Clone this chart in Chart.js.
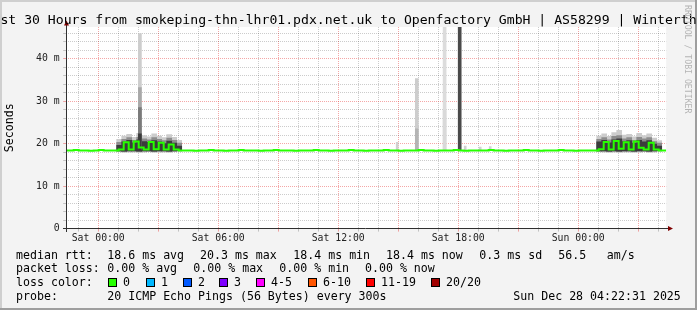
<!DOCTYPE html>
<html>
<head>
<meta charset="utf-8">
<script src="https://cdn.jsdelivr.net/npm/chart.js@4/dist/chart.umd.min.js"></script>
<style>
  html, body { margin: 0; padding: 0; background: #f3f3f3; }
  #c { display: block; }
</style>
</head>
<body>
<canvas id="c" width="697" height="310"></canvas>
<script>
// time axis is in hours relative to Sat 00:00
const titleText = 'Last 30 Hours from smokeping-thn-lhr01.pdx.net.uk to Openfactory GmbH | AS58299 | Winterthur';
const xTickHours = [0, 6, 12, 18, 24];
const xTickLabels = ['Sat 00:00', 'Sat 06:00', 'Sat 12:00', 'Sat 18:00', 'Sun 00:00'];
const yTickValues = [0, 10, 20, 30, 40];
const yTickLabels = ['0', '10 m', '20 m', '30 m', '40 m'];

// median rtt (ms), one value every 15 minutes starting Fri 22:24
const sampleStart = -1.6;
const sampleStep = 0.25;
const medianMs = [
  18.4, 18.4, 18.5, 18.4, 18.4, 18.3, 18.4, 18.5, 18.4, 18.4,
  18.4, 18.6, 20.3, 18.6, 20.5, 19.1, 18.6, 20.4, 18.7, 20.2, 18.6, 19.8, 18.6, 18.4,
  18.4, 18.4, 18.3, 18.4, 18.4, 18.5, 18.4, 18.4, 18.3, 18.4,
  18.4, 18.5, 18.4, 18.4, 18.4, 18.3, 18.4, 18.4, 18.5, 18.4,
  18.4, 18.4, 18.3, 18.4, 18.4, 18.4, 18.5, 18.4, 18.4, 18.3,
  18.4, 18.4, 18.4, 18.5, 18.4, 18.4, 18.3, 18.4, 18.4, 18.4,
  18.5, 18.4, 18.4, 18.3, 18.4, 18.4, 18.4, 18.5, 18.4, 18.4,
  18.3, 18.4, 18.4, 18.4, 18.5, 18.4, 18.3, 18.4, 18.4, 18.4,
  18.4, 18.5, 18.4, 18.4, 18.3, 18.4, 18.4, 18.4, 18.5, 18.4,
  18.4, 18.3, 18.4, 18.4, 18.4, 18.5, 18.4, 18.4, 18.3, 18.4,
  18.4, 18.4,
  18.4, 18.7, 20.4, 18.6, 20.6, 18.8, 20.3, 18.6, 20.5, 19.0, 18.6, 20.2, 18.6, 18.4,
  18.4
];

// smoke (spread of the 20 pings) in the two busy windows
const smokeHours = [1.05, 1.3, 1.55, 1.8, 2.05, 2.3, 2.55, 2.8, 3.05, 3.3, 3.55, 3.8, 4.05,
  25.05, 25.3, 25.55, 25.8, 26.05, 26.3, 26.55, 26.8, 27.05, 27.3, 27.55, 27.8, 28.05];
const smokeLightLo = [18.1, 17.9, 18.0, 18.0, 17.9, 18.0, 18.1, 17.9, 18.0, 18.0, 17.9, 18.1, 18.2,
  18.1, 18.0, 17.9, 18.0, 17.9, 18.0, 18.0, 17.9, 18.0, 18.1, 17.9, 18.0, 18.2];
const smokeLightHi = [21.0, 21.8, 22.2, 21.5, 22.4, 21.9, 21.6, 22.3, 21.8, 21.4, 22.1, 21.5, 20.8,
  21.8, 22.3, 21.7, 22.6, 23.1, 22.0, 22.2, 21.6, 22.4, 21.9, 22.3, 21.3, 20.7];
const smokeMidLo = [18.2, 18.1, 18.2, 18.2, 18.1, 18.2, 18.2, 18.1, 18.2, 18.2, 18.1, 18.2, 18.3,
  18.2, 18.2, 18.1, 18.2, 18.1, 18.2, 18.2, 18.1, 18.2, 18.2, 18.1, 18.2, 18.3];
const smokeMidHi = [20.3, 21.0, 21.4, 20.8, 21.5, 21.1, 20.9, 21.4, 21.0, 20.7, 21.3, 20.8, 20.1,
  21.0, 21.4, 20.9, 21.7, 21.9, 21.1, 21.4, 20.8, 21.5, 21.1, 21.4, 20.5, 20.1];
const smokeDarkLo = [18.3, 18.2, 18.3, 18.3, 18.2, 18.3, 18.3, 18.2, 18.3, 18.3, 18.2, 18.3, 18.4,
  18.3, 18.3, 18.2, 18.3, 18.2, 18.3, 18.3, 18.2, 18.3, 18.3, 18.2, 18.3, 18.4];
const smokeDarkHi = [19.6, 20.4, 20.8, 20.2, 20.9, 20.5, 20.3, 20.7, 20.4, 20.0, 20.6, 20.1, 19.4,
  20.4, 20.8, 20.2, 20.9, 21.1, 20.5, 20.7, 20.1, 20.8, 20.4, 20.7, 19.9, 19.4];

// single spikes
const spikeHours = [2.085, 15.93, 17.32];
const spikeMaxMs = [45.9, 35.3, 52.0];
const spikeUpperMs = [33.2, 23.5, 27.8];
const spikeMidMs = [28.5, null, null];
const spikeCoreMs = [22.3, null, null];
const spikeBaseMs = 18.6;
const lossHours = [18.075];
const lossMaxMs = [52.0];
const bumpHours = [14.95, 18.35, 19.1, 19.6];
const bumpMaxMs = [20.3, 19.4, 19.2, 19.3];

// legend
const rttStats = ['18.6 ms avg', '20.3 ms max', '18.4 ms min', '18.4 ms now', '0.3 ms sd', '56.5', 'am/s'];
const lossStats = ['0.00 % avg', '0.00 % max', '0.00 % min', '0.00 % now'];
const lossBins = ['0', '1', '2', '3', '4-5', '6-10', '11-19', '20/20'];
const lossColors = ['#26ff00', '#00b8ff', '#0059ff', '#7e00ff', '#ff00ff', '#ff5500', '#ff0000', '#a10000'];
const probeText = '20 ICMP Echo Pings (56 Bytes) every 300s';
const stampText = 'Sun Dec 28 04:22:31 2025';

const FONT = 'DejaVu Sans Mono';
const minorGrid = 'rgba(0,0,0,0.2)';
const majorGrid = 'rgba(230,60,60,0.45)';

const medianPoints = medianMs.map((v, i) => ({ x: sampleStart + i * sampleStep, y: v }));
const range = (hours, lo, hi) => hours.map((h, i) => ({ x: h, y: [Array.isArray(lo) ? lo[i] : lo, hi[i]] }))
  .filter(p => p.y[1] != null);

function barSet(label, data, color, width, order) {
  return { type: 'bar', label, data, backgroundColor: color, borderWidth: 0,
    barThickness: width, order, clip: 0 };
}

const frame = {
  id: 'frame',
  beforeDraw(chart) {
    const { ctx, chartArea: a } = chart;
    ctx.save();
    ctx.fillStyle = '#f3f3f3';
    ctx.fillRect(0, 0, 697, 310);
    ctx.fillStyle = '#cfcfcf';
    ctx.fillRect(0, 0, 697, 2);
    ctx.fillRect(0, 0, 2, 310);
    ctx.fillStyle = '#9e9e9e';
    ctx.fillRect(0, 308, 697, 2);
    ctx.fillRect(695, 0, 2, 310);
    ctx.fillStyle = '#ffffff';
    ctx.fillRect(a.left, a.top, a.right - a.left, a.bottom - a.top);
    ctx.restore();
  },
  afterDatasetsDraw(chart) {
    const { ctx } = chart;
    const x0 = Math.floor(chart.scales.x.left) + 0.5;
    const y0 = Math.floor(chart.scales.y.getPixelForValue(0)) + 0.5;
    ctx.save();
    ctx.strokeStyle = '#303030';
    ctx.lineWidth = 1;
    ctx.beginPath();
    ctx.moveTo(x0 - 3.5, y0); ctx.lineTo(668, y0);
    ctx.moveTo(x0, y0 + 3.5); ctx.lineTo(x0, 24);
    ctx.stroke();
    ctx.fillStyle = '#7f0000';
    ctx.beginPath();
    ctx.moveTo(668, y0 - 2.5); ctx.lineTo(673, y0); ctx.lineTo(668, y0 + 2.5); ctx.closePath();
    ctx.moveTo(x0 - 2.5, 25.5); ctx.lineTo(x0, 20.5); ctx.lineTo(x0 + 2.5, 25.5); ctx.closePath();
    ctx.fill();
    ctx.restore();
  },
  afterDraw(chart) {
    const { ctx } = chart;
    ctx.save();
    ctx.fillStyle = '#000';
    ctx.textBaseline = 'alphabetic';
    ctx.textAlign = 'center';
    ctx.font = '13.15px "' + FONT + '"';
    ctx.fillText(titleText, 348.5, 24);

    ctx.textAlign = 'left';
    ctx.font = '11.6px "' + FONT + '"';
    const rttX = [107.3, 200, 293.3, 386, 479.3, 558.3, 606.7];
    ctx.fillText('median rtt:', 16, 258.5);
    rttStats.forEach((t, i) => ctx.fillText(t, rttX[i], 258.5));
    const lossX = [107.3, 193.3, 279.3, 365];
    ctx.fillText('packet loss:', 16, 272.3);
    lossStats.forEach((t, i) => ctx.fillText(t, lossX[i], 272.3));
    const boxX = [108, 146, 183, 219, 256, 308, 366, 431];
    ctx.fillText('loss color:', 16, 286.2);
    lossBins.forEach((t, i) => {
      ctx.fillStyle = lossColors[i];
      ctx.fillRect(boxX[i], 278, 9, 9);
      ctx.strokeStyle = '#000';
      ctx.lineWidth = 1;
      ctx.strokeRect(boxX[i] + 0.5, 278.5, 8, 8);
      ctx.fillStyle = '#000';
      ctx.fillText(t, boxX[i] + 15, 286.2);
    });
    ctx.fillText('probe:', 16, 300.2);
    ctx.fillText(probeText, 107.3, 300.2);
    ctx.fillText(stampText, 513.3, 300.2);

    ctx.translate(685, 5);
    ctx.rotate(Math.PI / 2);
    ctx.font = '8.2px "' + FONT + '"';
    ctx.fillStyle = '#b4b4b4';
    ctx.fillText('RRDTOOL / TOBI OETIKER', 0, 0);
    ctx.restore();
  }
};

const xGridHours = [];
for (let h = -1; h <= 28; h++) xGridHours.push(h);
const yGridMs = [];
for (let v = 0; v <= 46; v += 2) yGridMs.push(v);

new Chart(document.getElementById('c'), {
  data: {
    datasets: [
      { type: 'line', label: 'median rtt', data: medianPoints, borderColor: '#26ff00',
        borderWidth: 2, pointRadius: 0, stepped: 'middle', order: 0 },
      barSet('loss', range(lossHours, spikeBaseMs, lossMaxMs), '#4a4a4a', 3, 1),
      barSet('spike core', range(spikeHours, spikeBaseMs, spikeCoreMs), '#3a3a3a', 3, 2),
      barSet('spike mid', range(spikeHours, spikeBaseMs, spikeMidMs), '#7a7a7a', 3, 3),
      barSet('spike upper', range(spikeHours, spikeBaseMs, spikeUpperMs), ['#a8a8a8', '#b4b4b4', '#d9d9d9'], [3, 3, 4], 4),
      barSet('spike max', range(spikeHours, spikeBaseMs, spikeMaxMs), ['#cdcdcd', '#cdcdcd', '#dcdcdc'], 3, 5),
      barSet('smoke dark', range(smokeHours, smokeDarkLo, smokeDarkHi), '#3c3c3c', 5, 6),
      barSet('smoke mid', range(smokeHours, smokeMidLo, smokeMidHi), '#8c8c8c', 5, 7),
      barSet('smoke light', range(smokeHours, smokeLightLo, smokeLightHi), '#cccccc', 5, 8),
      barSet('bumps', range(bumpHours, spikeBaseMs, bumpMaxMs), '#d0d0d0', 2, 9)
    ]
  },
  options: {
    responsive: false,
    animation: false,
    events: [],
    layout: { padding: { left: 0, top: 27, right: 30.8, bottom: 0 } },
    plugins: { legend: { display: false }, title: { display: false }, tooltip: { enabled: false } },
    scales: {
      x: {
        type: 'linear', min: -1.6, max: 28.4, stacked: true, offset: false,
        afterBuildTicks: s => { s.ticks = xGridHours.map(v => ({ value: v })); },
        afterFit: s => { s.height = 81.4; },
        ticks: {
          autoSkip: false, maxRotation: 0, padding: 1, color: '#222',
          font: { family: FONT, size: 9.8 },
          callback: v => { const k = xTickHours.indexOf(v); return k >= 0 ? xTickLabels[k] : ''; }
        },
        grid: {
          offset: false,
          color: c => (c.tick && c.tick.value % 3 === 0) ? majorGrid : minorGrid,
          tickColor: c => (c.tick && c.tick.value % 3 === 0) ? majorGrid : minorGrid,
          tickLength: 3, lineWidth: 1
        },
        border: { display: false, dash: [1, 1] }
      },
      y: {
        min: 0, max: 47.44, stacked: false,
        afterBuildTicks: s => { s.ticks = yGridMs.map(v => ({ value: v })); },
        afterFit: s => { s.width = 66.2; },
        ticks: {
          autoSkip: false, padding: 3.5, color: '#222',
          font: { family: FONT, size: 9.8 },
          callback: v => { const k = yTickValues.indexOf(v); return k >= 0 ? yTickLabels[k] : ''; }
        },
        grid: {
          color: c => (c.tick && c.tick.value % 10 === 0) ? majorGrid : minorGrid,
          tickColor: c => (c.tick && c.tick.value % 10 === 0) ? majorGrid : minorGrid,
          tickLength: 3, lineWidth: 1
        },
        border: { display: false, dash: [1, 1] },
        title: { display: true, text: 'Seconds', color: '#000', padding: { top: 3, bottom: 0 },
          font: { family: FONT, size: 11.6 } }
      }
    }
  },
  plugins: [frame]
});
</script>
</body>
</html>
